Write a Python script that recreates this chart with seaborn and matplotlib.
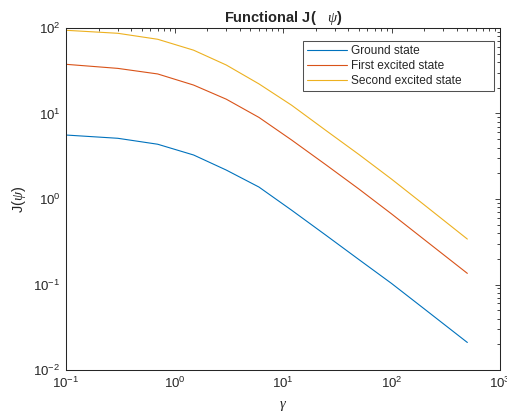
import numpy as np
import pandas as pd
import matplotlib
matplotlib.use("Agg")
import matplotlib.pyplot as plt
import seaborn as sns
from matplotlib.ticker import LogLocator, NullFormatter

# Coupling strength gamma and the functional value for each state
gamma = [0.1, 0.3, 0.7, 1.5, 3, 6, 12, 25, 50, 100, 200, 500]
ground = [5.6, 5.13, 4.37, 3.27, 2.18, 1.38, 0.74, 0.375, 0.196, 0.103, 0.052, 0.021]
first_excited = [37.6, 33.7, 29.0, 21.5, 14.7, 9.0, 4.9, 2.5, 1.31, 0.67, 0.336, 0.135]
second_excited = [94.0, 86.7, 73.8, 55.0, 36.9, 22.2, 12.5, 6.3, 3.32, 1.71, 0.855, 0.34]

state_names = ["Ground state", "First excited state", "Second excited state"]
state_colors = ["#0072BD", "#D95319", "#EDB120"]

df = pd.concat([
    pd.DataFrame({"gamma": gamma, "J": vals, "state": name})
    for name, vals in zip(state_names, [ground, first_excited, second_excited])
], ignore_index=True)

sns.set_theme(style="white")
plt.rcParams["font.family"] = ["Liberation Sans", "DejaVu Sans"]
plt.rcParams["mathtext.fontset"] = "custom"
plt.rcParams["mathtext.rm"] = "Liberation Sans"
plt.rcParams["mathtext.it"] = "Liberation Serif:italic"
plt.rcParams["mathtext.bf"] = "Liberation Sans:bold"

fig = plt.figure(figsize=(5.07, 4.19), dpi=100)
ax = fig.add_axes([0.1302, 0.1169, 0.8560, 0.8163])

sns.lineplot(data=df, x="gamma", y="J", hue="state", hue_order=state_names,
             palette=state_colors, linewidth=0.8, ax=ax, legend=False)

ax.set_xscale("log")
ax.set_yscale("log")
ax.set_xlim(0.1, 1000)
ax.set_ylim(0.01, 100)

for spine in ax.spines.values():
    spine.set_color("#262626")
    spine.set_linewidth(0.75)

ax.xaxis.set_major_locator(LogLocator(base=10, numticks=10))
ax.yaxis.set_major_locator(LogLocator(base=10, numticks=10))
ax.xaxis.set_minor_locator(LogLocator(base=10, subs=np.arange(2, 10), numticks=20))
ax.yaxis.set_minor_locator(LogLocator(base=10, subs=np.arange(2, 10), numticks=20))
ax.xaxis.set_minor_formatter(NullFormatter())
ax.yaxis.set_minor_formatter(NullFormatter())

ax.tick_params(which="both", direction="in", top=True, right=True,
               color="#262626", labelsize=9.5, labelcolor="#262626")
ax.tick_params(which="major", length=3.7, width=0.6)
ax.tick_params(which="minor", length=2.2, width=0.6)
ax.tick_params(axis="x", which="major", pad=4)
ax.tick_params(axis="y", which="major", pad=4)

ax.set_xlabel(r"$\gamma$", fontsize=10.5, color="#262626", labelpad=6)
ax.set_ylabel(r"J($\psi$)", fontsize=10.5, color="#262626", labelpad=4)
ax.set_title(r"Functional J(   $\psi$)", fontsize=10.5, fontweight="bold", pad=4)

handles = [plt.Line2D([], [], color=c, linewidth=0.8) for c in state_colors]
leg = ax.legend(handles, state_names, loc="upper right",
                bbox_to_anchor=(0.546, 0.5, 0.440, 0.462), mode="expand",
                borderaxespad=0, fontsize=8.6, frameon=True, fancybox=False,
                handlelength=3.35, handletextpad=0.35, borderpad=0.35,
                labelspacing=0.25)
leg.get_frame().set_edgecolor("#262626")
leg.get_frame().set_linewidth(0.75)

fig.savefig("out.png", dpi=100)
